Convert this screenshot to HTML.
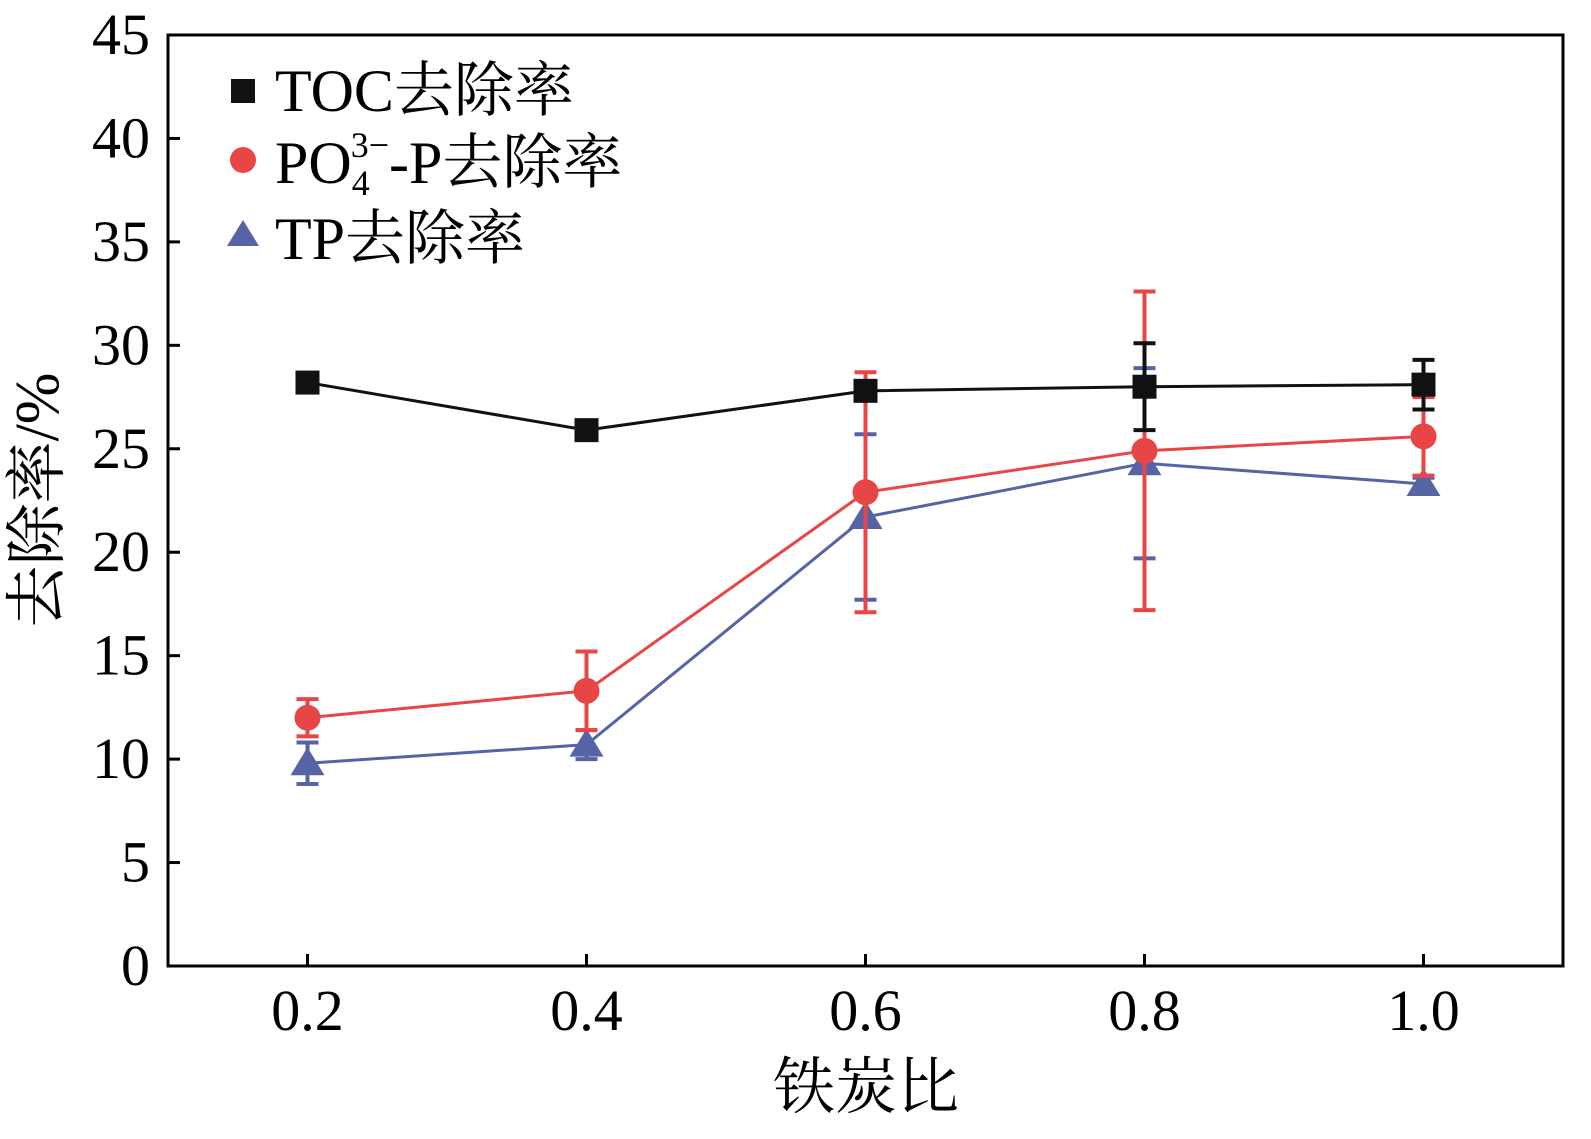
<!DOCTYPE html>
<html><head><meta charset="utf-8">
<style>
html,body{margin:0;padding:0;background:#fff;}
svg text{font-family:"Liberation Serif","Noto Serif CJK SC","Noto Sans CJK SC",serif;fill:#000;}
</style></head>
<body>
<svg id="chart" width="1591" height="1134" xmlns="http://www.w3.org/2000/svg">
<rect x="168" y="35" width="1395" height="931" fill="none" stroke="#000" stroke-width="3"/>
<g id="axes"></g>
<g id="series"></g>
<text x="866" y="1108" font-size="62" text-anchor="middle">铁炭比</text>
<text transform="translate(58,500) rotate(-90)" font-size="62" text-anchor="middle">去除率/%</text>
<g>
<rect x="231" y="79" width="24" height="24" fill="#111"/>
<text x="275" y="111" font-size="60">TOC去除率</text>
<circle cx="243" cy="160" r="13" fill="#e84646"/>
<text x="275" y="183" font-size="60">PO<tspan font-size="36" dy="12">4</tspan><tspan font-size="36" dy="-38" dx="-19">3−</tspan><tspan dy="26">-P去除率</tspan></text>
<polygon points="227,246 243,220 259,246" fill="#5664a6"/>
<text x="275" y="259" font-size="60">TP去除率</text>
</g>
</svg>
<script>
const categories=[0.2,0.4,0.6,0.8,1.0];
const tocValues=[28.2,25.9,27.8,28.0,28.1];
const tocErr=[0.3,0.3,0.3,2.1,1.2];
const po4Values=[12.0,13.3,22.9,24.9,25.6];
const po4Err=[0.9,1.9,5.8,7.7,1.9];
const tpValues=[9.8,10.7,21.7,24.3,23.3];
const tpErr=[1.0,0.7,4.0,4.6,0.3];
const yTicks=[0,5,10,15,20,25,30,35,40,45];
const xTickLabels=["0.2","0.4","0.6","0.8","1.0"];
const NS="http://www.w3.org/2000/svg";
const X0=168,X1=1563,Y0=966,Y1=35;
function xs(v){return X0+(v-0.1)/(1.0)*(X1-X0);}
function ys(v){return Y0-(v/45)*(Y0-Y1);}
function mk(tag,attrs,parent){const e=document.createElementNS(NS,tag);for(const k in attrs)e.setAttribute(k,attrs[k]);parent.appendChild(e);return e;}
const axes=document.getElementById('axes');
yTicks.forEach(t=>{
  const l=mk('line',{x1:X0,x2:X0+12,y1:ys(t),y2:ys(t),stroke:'#000','stroke-width':3},axes);
  
  
  const tx=mk('text',{x:150,y:ys(t)+19,'font-size':58,'text-anchor':'end'},axes);
  tx.textContent=t;
  
  
});
categories.forEach((c,i)=>{
  const l=mk('line',{x1:xs(c),x2:xs(c),y1:Y0,y2:Y0-12,stroke:'#000','stroke-width':3},axes);
  
  
  const tx=mk('text',{x:xs(c),y:1030,'font-size':58,'text-anchor':'middle'},axes);
  tx.textContent=xTickLabels[i];
  
  
});
const sg=document.getElementById('series');
function drawSeries(vals,errs,color,shape,name){
  const g=mk('g',{},sg);
  
  
  const pl=mk('polyline',{points:categories.map((c,i)=>xs(c)+','+ys(vals[i])).join(' '),fill:'none',stroke:color,'stroke-width':3},g);
  
  
  categories.forEach((c,i)=>{
    const x=xs(c),y=ys(vals[i]),t=ys(vals[i]+errs[i]),b=ys(vals[i]-errs[i]);
    const eg=mk('g',{stroke:color,'stroke-width':4},g);
    
    
    mk('line',{x1:x,x2:x,y1:t,y2:b},eg);
    mk('line',{x1:x-11,x2:x+11,y1:t,y2:t},eg);
    mk('line',{x1:x-11,x2:x+11,y1:b,y2:b},eg);
    let m;
    if(shape==='square')m=mk('rect',{x:x-12,y:y-12,width:24,height:24,fill:color},g);
    else if(shape==='circle')m=mk('circle',{cx:x,cy:y,r:13,fill:color},g);
    else m=mk('polygon',{points:`${x-17},${y+12} ${x},${y-16} ${x+17},${y+12}`,fill:color},g);
    
    
  });
}
drawSeries(tpValues,tpErr,'#5664a6','triangle','tp');
drawSeries(po4Values,po4Err,'#e84646','circle','po4');
drawSeries(tocValues,tocErr,'#111111','square','toc');
</script>
</body></html>
